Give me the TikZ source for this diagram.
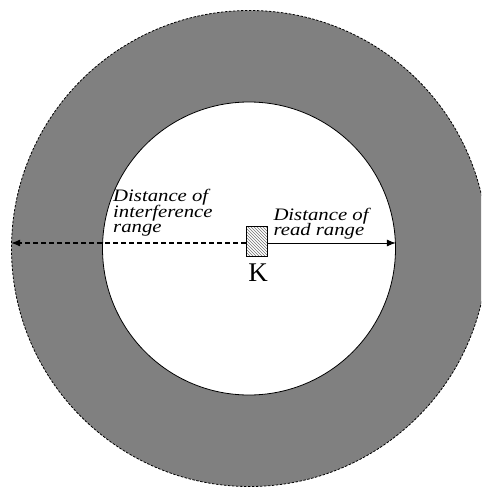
\documentclass[tikz,border=0pt]{standalone}
\usepackage{fontspec}
\setmainfont{Liberation Serif}
\newfontfamily\lblfont[FakeStretch=1.185]{Liberation Serif}
\usetikzlibrary{patterns,arrows.meta}
\definecolor{ringgray}{RGB}{128,128,128}
\begin{document}
\begin{tikzpicture}[x=1pt,y=-1pt,
  ringstyle/.style={circle,draw=black,fill=ringgray,line width=0.8pt,dash pattern=on 2.5pt off 1.5pt,minimum size=476pt,inner sep=0pt},
  innerstyle/.style={circle,draw=black,fill=white,line width=0.8pt,minimum size=293pt,inner sep=0pt},
  tagbox/.style={rectangle,draw=black,line width=0.8pt,pattern=north west lines,pattern color=black!55,minimum width=20.5pt,minimum height=29.5pt,inner sep=0pt},
  lbl/.style={anchor=base west,inner sep=0pt,font=\lblfont\itshape\fontsize{17.5}{15}\selectfont},
  tipstyle/.style={-{Latex[length=9pt,width=7pt]}},
  dashline/.style={line width=1.1pt,dash pattern=on 5pt off 3pt}]
\useasboundingbox (0,0) rectangle (481,489);
\clip (0,0) rectangle (481,489);
\fill[white] (0,0) rectangle (481,489);
\node[ringstyle] (outer) at (249.5,248.5) {};
\node[innerstyle] (inner) at (249,248.5) {};
\node[tagbox] (tag) at (256.8,241.2) {};
\node[anchor=base,inner sep=0pt,font=\fontsize{27}{30}\selectfont] (klabel) at (258,281) {K};
\coordinate (axis) at (0,243);
\draw[dashline,tipstyle] (tag.west |- axis) -- (outer.west |- axis);
\draw[line width=1pt,tipstyle] (tag.east |- axis) -- (inner.east |- axis);
\node[lbl] (i1) at (113,201.7) {Distance of};
\node[lbl] (i2) at (113,217) {interference};
\node[lbl] (i3) at (113,232) {range};
\node[lbl] (r1) at (273.3,220.5) {Distance of};
\node[lbl] (r2) at (273.3,235) {read range};
\end{tikzpicture}
\end{document}
